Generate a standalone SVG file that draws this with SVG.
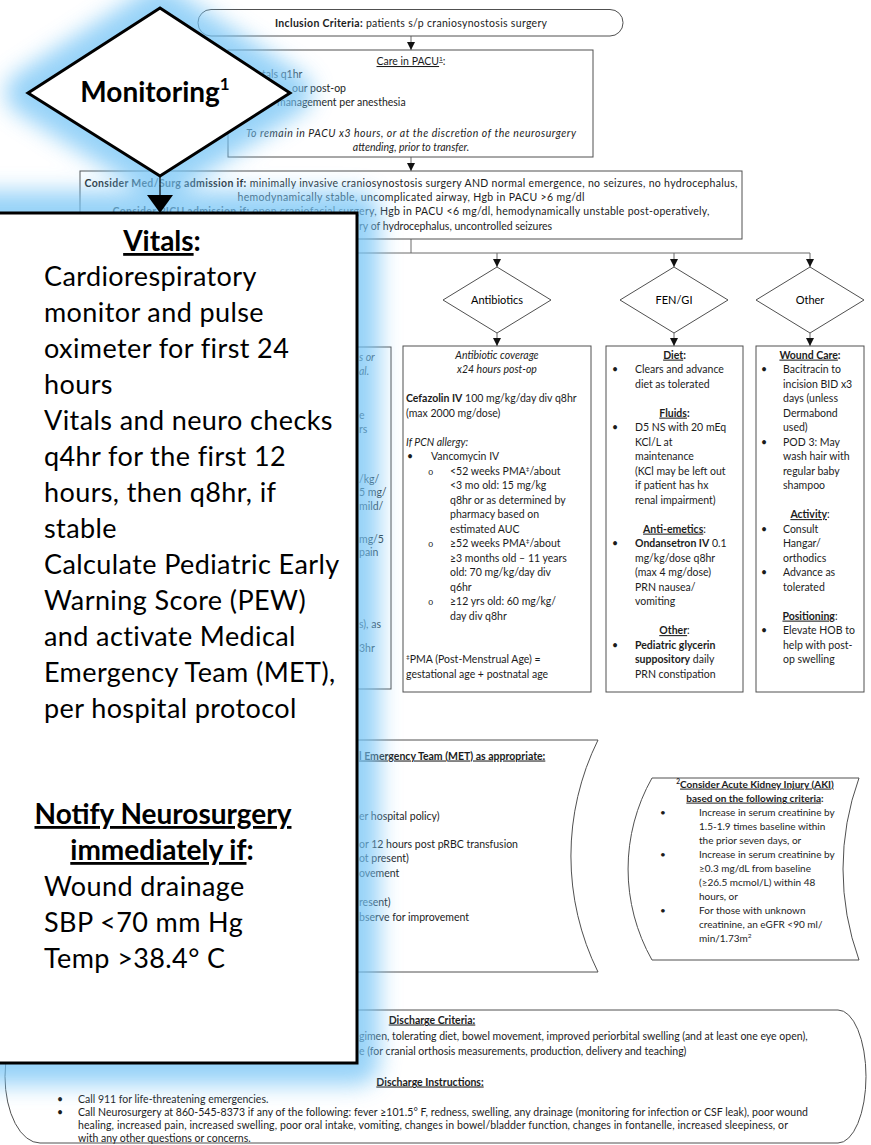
<svg xmlns="http://www.w3.org/2000/svg" width="871" height="1145" viewBox="0 0 871 1145">
<style>
text { font-family: Lato, "Liberation Sans", sans-serif; font-size: 10.5px; fill: #1c1c1c; }
.b { font-weight: bold; }
.i { font-style: italic; }
.u { text-decoration: underline; }
.m { text-anchor: middle; }
.e { text-anchor: end; }
.o { font-family: "Liberation Mono", monospace; font-size: 9px; }
.sup { font-size: 6.5px; }
.sm { font-size: 10px; }
.dl { font-size: 11px; fill: #000; }
.big { font-size: 27px; fill: #000; letter-spacing: 0.4px; }
.hd { font-size: 28px; font-weight: bold; fill: #000; }
.box { fill: #fff; stroke: #505050; stroke-width: 1; }
.wire { fill: none; stroke: #6a6a6a; stroke-width: 1; }
.callout { fill: #fff; stroke: #000; stroke-width: 3; }
</style>
<defs>
  <marker id="arr" viewBox="0 0 8 8" refX="8" refY="4" markerWidth="8" markerHeight="8" markerUnits="userSpaceOnUse" orient="auto">
    <path d="M0,0 L8,4 L0,8 Z" fill="#111"/>
  </marker>
  <filter id="glow" filterUnits="userSpaceOnUse" x="-120" y="-120" width="640" height="1320">
    <feGaussianBlur stdDeviation="11"/>
  </filter>
</defs>

<rect x="0" y="0" width="871" height="1145" fill="#fff"/>

<!-- flowchart connectors -->
<g id="connectors" class="wire">
  <line x1="411" y1="36" x2="411" y2="50" marker-end="url(#arr)"/>
  <line x1="411" y1="157" x2="411" y2="171" marker-end="url(#arr)"/>
  <line x1="411" y1="239" x2="411" y2="253"/>
  <line x1="300" y1="253" x2="810" y2="253"/>
  <line x1="497" y1="253" x2="497" y2="267" marker-end="url(#arr)"/>
  <line x1="674" y1="253" x2="674" y2="267" marker-end="url(#arr)"/>
  <line x1="810" y1="253" x2="810" y2="267" marker-end="url(#arr)"/>
  <line x1="497" y1="333" x2="497" y2="346" marker-end="url(#arr)"/>
  <line x1="674" y1="333" x2="674" y2="346" marker-end="url(#arr)"/>
  <line x1="810" y1="333" x2="810" y2="346" marker-end="url(#arr)"/>
</g>

<g id="inclusion">
  <rect class="box" x="198" y="9.5" width="425" height="26.5" rx="13"/>
  <text class="m" x="411" y="27" textLength="272"><tspan class="b">Inclusion Criteria:</tspan> patients s/p craniosynostosis surgery</text>
</g>

<g id="pacu">
  <rect class="box" x="228" y="50" width="365" height="107"/>
  <text class="m" x="411" y="65"><tspan class="u">Care in PACU<tspan class="sup" dy="-4">1</tspan></tspan><tspan dy="4">:</tspan></text>
  <text x="262" y="78">tals q1hr</text>
  <text x="292" y="92">our post-op</text>
  <text x="277" y="106">management per anesthesia</text>
  <text class="m i" x="411" y="137" textLength="330">To remain in PACU x3 hours, or at the discretion of the neurosurgery</text>
  <text class="m i" x="411" y="151">attending, prior to transfer.</text>
</g>

<g id="admission">
  <rect class="box" x="80" y="171" width="662" height="68"/>
  <text class="m" x="411" y="186.5" textLength="653"><tspan class="b">Consider Med/Surg admission if:</tspan> minimally invasive craniosynostosis surgery AND normal emergence, no seizures, no hydrocephalus,</text>
  <text class="m" x="411" y="200.5" textLength="347">hemodynamically stable, uncomplicated airway, Hgb in PACU &gt;6 mg/dl</text>
  <text class="m" x="411" y="215" textLength="597"><tspan class="b">Consider PICU admission if:</tspan> open craniofacial surgery, Hgb in PACU &lt;6 mg/dl, hemodynamically unstable post-operatively,</text>
  <text x="359" y="229.5">ry of hydrocephalus, uncontrolled seizures</text>
</g>

<g id="antibiotics-decision">
  <polygon class="box" points="497,267 551,300 497,333 443,300"/>
  <text class="m dl" x="497" y="304">Antibiotics</text>
</g>
<g id="fengi-decision">
  <polygon class="box" points="674,267 728,300 674,333 620,300"/>
  <text class="m dl" x="674" y="304">FEN/GI</text>
</g>
<g id="other-decision">
  <polygon class="box" points="810,267 864,300 810,333 756,300"/>
  <text class="m dl" x="810" y="304">Other</text>
</g>

<g id="first-column">
  <rect class="box" x="200" y="347" width="191" height="342"/>
  <text class="i" x="359" y="360.5">s or</text>
  <text class="i" x="359" y="375">al.</text>
  <text x="359" y="418.5">e</text>
  <text x="359" y="432.5">rs</text>
  <text x="359" y="482.5">/kg/</text>
  <text x="359" y="496">5 mg/</text>
  <text x="359" y="510">mild/</text>
  <text x="359" y="542.5">mg/5</text>
  <text x="359" y="556">pain</text>
  <text x="359" y="628">s), as</text>
  <text x="359" y="652">3hr</text>
</g>

<g id="antibiotics">
  <rect class="box" x="403" y="346" width="188" height="346"/>
  <text class="m i" x="497" y="358.6">Antibiotic coverage</text>
  <text class="m i" x="497" y="373.1">x24 hours post-op</text>
  <text x="406" y="402.1"><tspan class="b">Cefazolin IV</tspan> 100 mg/kg/day div q8hr</text>
  <text x="406" y="416.6">(max 2000 mg/dose)</text>
  <text class="i" x="406" y="445.6">If PCN allergy:</text>
  <text x="407" y="460.1">•</text>
  <text x="431" y="460.1">Vancomycin IV</text>
  <text class="o" x="428" y="474.6">o</text>
  <text x="450" y="474.6">&lt;52 weeks PMA<tspan class="sup" dy="-4">‡</tspan><tspan dy="4">/about</tspan></text>
  <text x="450" y="489.1">&lt;3 mo old: 15 mg/kg</text>
  <text x="450" y="503.6">q8hr or as determined by</text>
  <text x="450" y="518.1">pharmacy based on</text>
  <text x="450" y="532.6">estimated AUC</text>
  <text class="o" x="428" y="547.1">o</text>
  <text x="450" y="547.1">≥52 weeks PMA<tspan class="sup" dy="-4">‡</tspan><tspan dy="4">/about</tspan></text>
  <text x="450" y="561.6">≥3 months old – 11 years</text>
  <text x="450" y="576.1">old: 70 mg/kg/day div</text>
  <text x="450" y="590.6">q6hr</text>
  <text class="o" x="428" y="605.1">o</text>
  <text x="450" y="605.1">≥12 yrs old: 60 mg/kg/</text>
  <text x="450" y="619.6">day div q8hr</text>
  <text x="406" y="663.1"><tspan class="sup" dy="-4">‡</tspan><tspan dy="4">PMA (Post-Menstrual Age) =</tspan></text>
  <text x="406" y="677.6">gestational age + postnatal age</text>
</g>

<g id="fengi">
  <rect class="box" x="606" y="346" width="137" height="346"/>
  <text class="m" x="674.5" y="358.6"><tspan class="b u">Diet</tspan><tspan class="b">:</tspan></text>
  <text x="612" y="373.1">•</text>
  <text x="635" y="373.1">Clears and advance</text>
  <text x="635" y="387.6">diet as tolerated</text>
  <text class="m" x="674.5" y="416.6"><tspan class="b u">Fluids</tspan><tspan class="b">:</tspan></text>
  <text x="612" y="431.1">•</text>
  <text x="635" y="431.1">D5 NS with 20 mEq</text>
  <text x="635" y="445.6">KCl/L at</text>
  <text x="635" y="460.1">maintenance</text>
  <text x="635" y="474.6">(KCl may be left out</text>
  <text x="635" y="489.1">if patient has hx</text>
  <text x="635" y="503.6">renal impairment)</text>
  <text class="m" x="674.5" y="532.6"><tspan class="b u">Anti-emetics</tspan>:</text>
  <text x="612" y="547.1">•</text>
  <text x="635" y="547.1"><tspan class="b">Ondansetron IV</tspan> 0.1</text>
  <text x="635" y="561.6">mg/kg/dose q8hr</text>
  <text x="635" y="576.1">(max 4 mg/dose)</text>
  <text x="635" y="590.6">PRN nausea/</text>
  <text x="635" y="605.1">vomiting</text>
  <text class="m" x="674.5" y="634.1"><tspan class="b u">Other</tspan>:</text>
  <text x="612" y="648.6">•</text>
  <text class="b" x="635" y="648.6">Pediatric glycerin</text>
  <text x="635" y="663.1"><tspan class="b">suppository</tspan> daily</text>
  <text x="635" y="677.6">PRN constipation</text>
</g>

<g id="other">
  <rect class="box" x="756" y="346" width="108" height="346"/>
  <text class="m" x="810" y="358.6"><tspan class="b u">Wound Care</tspan><tspan class="b">:</tspan></text>
  <text x="761" y="373.1">•</text>
  <text x="783" y="373.1">Bacitracin to</text>
  <text x="783" y="387.6">incision BID x3</text>
  <text x="783" y="402.1">days (unless</text>
  <text x="783" y="416.6">Dermabond</text>
  <text x="783" y="431.1">used)</text>
  <text x="761" y="445.6">•</text>
  <text x="783" y="445.6">POD 3: May</text>
  <text x="783" y="460.1">wash hair with</text>
  <text x="783" y="474.6">regular baby</text>
  <text x="783" y="489.1">shampoo</text>
  <text class="m" x="810" y="518.1"><tspan class="b u">Activity</tspan>:</text>
  <text x="761" y="532.6">•</text>
  <text x="783" y="532.6">Consult</text>
  <text x="783" y="547.1">Hangar/</text>
  <text x="783" y="561.6">orthodics</text>
  <text x="761" y="576.1">•</text>
  <text x="783" y="576.1">Advance as</text>
  <text x="783" y="590.6">tolerated</text>
  <text class="m" x="810" y="619.6"><tspan class="b u">Positioning</tspan>:</text>
  <text x="761" y="634.1">•</text>
  <text x="783" y="634.1">Elevate HOB to</text>
  <text x="783" y="648.6">help with post-</text>
  <text x="783" y="663.1">op swelling</text>
</g>

<g id="met">
  <path class="box" d="M 200 740 H 598 A 262 262 0 0 0 598 972 H 200 Z"/>
  <text class="b u" x="359" y="759.5">l Emergency Team (MET) as appropriate:</text>
  <text x="359" y="819.5">er hospital policy)</text>
  <text x="359" y="847.5">or 12 hours post pRBC transfusion</text>
  <text x="359" y="862">ot present)</text>
  <text x="359" y="876.5">ovement</text>
  <text x="359" y="906">resent)</text>
  <text x="359" y="920.5">bserve for improvement</text>
</g>

<g id="aki">
  <path class="box" d="M 652 778 H 859 A 267 267 0 0 0 859 960 H 652 A 185 185 0 0 1 652 778 Z"/>
  <text class="m b sm" x="755" y="787.6"><tspan class="sup" dy="-3.5">2</tspan><tspan class="u" dy="3.5">Consider Acute Kidney Injury (AKI)</tspan></text>
  <text class="m b sm" x="755" y="801.6"><tspan class="u">based on the following criteria</tspan>:</text>
  <text class="sm" x="660" y="815.6">•</text>
  <text class="sm" x="699" y="815.6">Increase in serum creatinine by</text>
  <text class="sm" x="699" y="829.6">1.5-1.9 times baseline within</text>
  <text class="sm" x="699" y="843.6">the prior seven days, or</text>
  <text class="sm" x="660" y="857.6">•</text>
  <text class="sm" x="699" y="857.6">Increase in serum creatinine by</text>
  <text class="sm" x="699" y="871.6">≥0.3 mg/dL from baseline</text>
  <text class="sm" x="699" y="885.6">(≥26.5 mcmol/L) within 48</text>
  <text class="sm" x="699" y="899.6">hours, or</text>
  <text class="sm" x="660" y="913.6">•</text>
  <text class="sm" x="699" y="913.6">For those with unknown</text>
  <text class="sm" x="699" y="927.6">creatinine, an eGFR &lt;90 ml/</text>
  <text class="sm" x="699" y="941.6">min/1.73m<tspan class="sup" dy="-3.5">2</tspan></text>
</g>

<g id="discharge">
  <path class="box" d="M 40 1010 H 838 A 28 66.5 0 0 1 838 1143 H 40 A 35 66.5 0 0 1 40 1010 Z"/>
  <text class="m b u" x="432" y="1023.5">Discharge Criteria:</text>
  <text x="359" y="1039.5">gimen, tolerating diet, bowel movement, improved periorbital swelling (and at least one eye open),</text>
  <text x="359" y="1054.5">e (for cranial orthosis measurements, production, delivery and teaching)</text>
  <text class="m b u" x="430" y="1085.5">Discharge Instructions:</text>
  <text x="57" y="1102.5">•</text>
  <text x="78" y="1102.5">Call 911 for life-threatening emergencies.</text>
  <text x="57" y="1115.5">•</text>
  <text x="78" y="1115.5" textLength="730">Call Neurosurgery at 860-545-8373 if any of the following: fever ≥101.5° F, redness, swelling, any drainage (monitoring for infection or CSF leak), poor wound</text>
  <text x="78" y="1128.5" textLength="710">healing, increased pain, increased swelling, poor oral intake, vomiting, changes in bowel/bladder function, changes in fontanelle, increased sleepiness, or</text>
  <text x="78" y="1141.5">with any other questions or concerns.</text>
</g>

<!-- soft blue glow behind the monitoring callout -->
<g id="callout-glow" filter="url(#glow)" opacity="0.75" fill="#74C4F6" stroke="#74C4F6" stroke-width="44" stroke-linejoin="round">
  <polygon points="160,8 290,93 160,176 28,93"/>
  <rect x="-30" y="213" width="387" height="850"/>
</g>

<g id="monitoring">
  <polygon class="callout" points="160,8 290,93 160,176 28,93"/>
  <text class="hd m" x="155" y="102">Monitoring<tspan font-size="17" dy="-12">1</tspan></text>
</g>

<g id="callout-connector">
  <line x1="160" y1="176" x2="160" y2="197" stroke="#000" stroke-width="1.2"/>
  <polygon points="147,195 173,195 160,213" fill="#000"/>
</g>

<g id="vitals">
  <rect class="callout" x="-30" y="213" width="387" height="850"/>
  <text class="hd m" x="162" y="251"><tspan class="u">Vitals</tspan>:</text>
  <text class="big" x="44" y="286">Cardiorespiratory</text>
  <text class="big" x="44" y="322">monitor and pulse</text>
  <text class="big" x="44" y="358">oximeter for first 24</text>
  <text class="big" x="44" y="394">hours</text>
  <text class="big" x="44" y="430">Vitals and neuro checks</text>
  <text class="big" x="44" y="466">q4hr for the first 12</text>
  <text class="big" x="44" y="502">hours, then q8hr, if</text>
  <text class="big" x="44" y="538">stable</text>
  <text class="big" x="44" y="574">Calculate Pediatric Early</text>
  <text class="big" x="44" y="610">Warning Score (PEW)</text>
  <text class="big" x="44" y="646">and activate Medical</text>
  <text class="big" x="44" y="682">Emergency Team (MET),</text>
  <text class="big" x="44" y="718">per hospital protocol</text>
  <text class="hd m u" x="163" y="824">Notify Neurosurgery</text>
  <text class="hd m" x="162" y="860"><tspan class="u">immediately if</tspan>:</text>
  <text class="big" x="44" y="896">Wound drainage</text>
  <text class="big" x="44" y="932">SBP &lt;70 mm Hg</text>
  <text class="big" x="44" y="968">Temp &gt;38.4° C</text>
</g>
</svg>
